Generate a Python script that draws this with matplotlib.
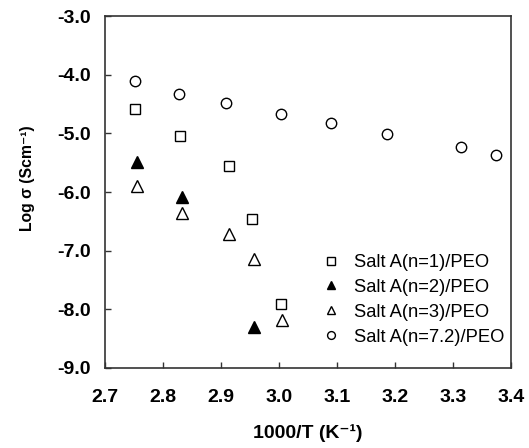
import numpy as np
import matplotlib.pyplot as plt

plt.rcParams['font.family'] = ['Liberation Sans', 'DejaVu Sans']

# Salt A(n=1)/PEO
x_n1 = [2.752, 2.829, 2.914, 2.953, 3.003]
y_n1 = [-4.59, -5.05, -5.56, -6.46, -7.91]

# Salt A(n=2)/PEO
x_n2 = [2.755, 2.833, 2.957]
y_n2 = [-5.49, -6.09, -8.30]

# Salt A(n=3)/PEO
x_n3 = [2.755, 2.833, 2.914, 2.957, 3.005]
y_n3 = [-5.90, -6.36, -6.72, -7.14, -8.18]

# Salt A(n=7.2)/PEO
x_n72 = [2.752, 2.828, 2.909, 3.003, 3.090, 3.186, 3.314, 3.374]
y_n72 = [-4.11, -4.33, -4.48, -4.67, -4.82, -5.01, -5.23, -5.37]

xticks = [2.7, 2.8, 2.9, 3.0, 3.1, 3.2, 3.3, 3.4]
yticks = [-9.0, -8.0, -7.0, -6.0, -5.0, -4.0, -3.0]

fig = plt.figure(figsize=(5.29, 4.48), dpi=100)
ax = fig.add_axes([0.1985, 0.1786, 0.7675, 0.7854])

ax.plot(x_n1, y_n1, 's', ms=7.5, mfc='white', mec='black', mew=1.0, ls='none',
        label='Salt A(n=1)/PEO')
ax.plot(x_n2, y_n2, '^', ms=8.5, mfc='black', mec='black', mew=1.0, ls='none',
        label='Salt A(n=2)/PEO')
ax.plot(x_n3, y_n3, '^', ms=8.5, mfc='white', mec='black', mew=1.0, ls='none',
        label='Salt A(n=3)/PEO')
ax.plot(x_n72, y_n72, 'o', ms=7.5, mfc='white', mec='black', mew=1.0, ls='none',
        label='Salt A(n=7.2)/PEO')

ax.set_xlim(2.7, 3.4)
ax.set_ylim(-9.0, -3.0)
ax.set_xticks(xticks)
ax.set_yticks(yticks)
ax.set_xticklabels([f'{v:.1f}' for v in xticks], fontweight='bold', fontsize=14)
ax.set_yticklabels([f'{v:.1f}' for v in yticks], fontweight='bold', fontsize=14)
ax.tick_params(direction='in', length=4, width=1.0, color='#333333')
ax.tick_params(axis='x', pad=15)
ax.tick_params(axis='y', pad=10)

for s in ax.spines.values():
    s.set_linewidth(1.2)
    s.set_color('#333333')

ax.set_xlabel('1000/T (K⁻¹)', fontweight='bold', fontsize=14, labelpad=13)
ax.set_ylabel('Log σ (Scm⁻¹)', fontweight='bold', fontsize=11.3,
              family=['Liberation Sans Narrow', 'Liberation Sans', 'DejaVu Sans'])
ax.yaxis.set_label_coords(-0.172, 0.54)

ax.legend(loc='upper left', bbox_to_anchor=(0.512, 0.35), frameon=False,
          fontsize=13.2, markerscale=0.75, handlelength=1.0, handletextpad=0.75,
          labelspacing=0.43, borderpad=0)

fig.savefig('out.png', dpi=100)
